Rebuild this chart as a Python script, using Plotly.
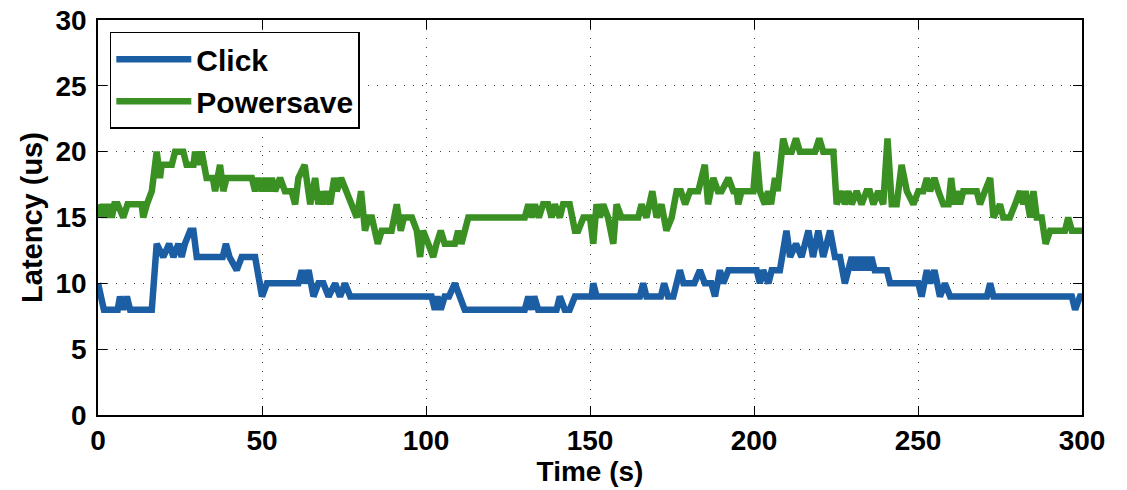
import plotly.graph_objects as go

# Click series (time s, latency us)
click_t = [0, 1.8, 6, 6.7, 7.7, 8.8, 9.8, 16.4, 17.9, 19.9, 21.7, 23, 24.5, 25.5, 26.5, 28.1, 29.1, 30.1,
           38, 39, 40.1, 42.3, 43.8, 47.9, 50, 51.5, 61.1, 62.1, 63.1, 64.2, 65.7, 67.2, 68.7, 70.3,
           72.3, 73.8, 75.3, 76.9, 101.7, 102.7, 103.5, 104.5, 105.7, 107, 108.8, 110.3, 111.8,
           130.1, 131.2, 132.2, 133, 134.2, 139.8, 140.8, 142.3, 143.8, 145.4, 150.5, 151, 152,
           165.2, 166.2, 167.2, 171.6, 172.6, 173.8, 175.4, 177.4, 178.5, 181.8, 183.5, 185, 187,
           188.1, 189.6, 190.6, 192.2, 200.8, 201.8, 202.8, 204.4, 205.4, 207.9, 209.9, 211, 212.8,
           214.5, 216.6, 218, 219.6, 221.1, 223.2, 224.7, 226.2, 227.7, 229.8, 230.8, 231.8, 232.8,
           233.8, 234.8, 235.8, 236.8, 240.5, 241.5, 250.1, 251.1, 252.7, 253.7, 255, 256.7, 258.2,
           259.8, 271, 272, 273, 296.9, 297.9, 299.4, 300]
click_v = [10, 8, 8, 9, 8, 9, 8, 8, 13, 12, 13, 12, 13, 12, 13, 14, 14, 12,
           12, 13, 12, 11, 12, 12, 9, 10, 10, 11, 10, 11, 9, 10, 10, 9,
           10, 9, 10, 9, 9, 8, 9, 8, 9, 9, 10, 9, 8,
           8, 9, 8, 9, 8, 8, 9, 8, 8, 9, 9, 10, 9,
           9, 10, 9, 9, 10, 9, 9, 11, 10, 10, 11, 10, 10,
           9, 11, 10, 11, 11, 10, 11, 10, 11, 11, 14, 12, 13,
           12, 14, 12, 14, 12, 14, 12, 12, 10, 12, 11, 12, 11,
           12, 11, 12, 11, 11, 10, 10, 9, 11, 10, 11, 9, 10,
           9, 9, 10, 9, 9, 8, 9, 9]

# Powersave series
ps_t = [0, 0.6, 1.5, 2.4, 3.3, 4.2, 5, 6, 7.7, 9, 13.3, 13.8, 14.9, 16.4, 17.9, 18.9, 19.4, 21, 22.5,
        23.5, 26, 27, 29.1, 29.6, 30.6, 31.6, 33.1, 35, 35.7, 37.2, 38.2, 39.2, 46.9, 47.9, 48.9,
        50, 51, 52, 53, 54, 55.5, 57, 59, 60.1, 61.1, 63, 64.7, 66.2, 67.2, 68.2, 68.7, 69.7, 70.8,
        72, 72.8, 74.1, 75.8, 77.4, 78.9, 80.2, 81.4, 82.5, 83.5, 85.3, 86.5, 89.5, 91.1, 92.3,
        93.3, 95.7, 97.2, 98.2, 99.1, 100.7, 102.2, 103.2, 104.5, 105.7, 108.8, 109.8, 110.8,
        112.9, 130.1, 131.2, 132.2, 133.2, 134.4, 135.7, 137.2, 138.3, 139.3, 140.8, 141.8,
        143.8, 145.4, 146.4, 148, 150, 151, 152, 153, 154, 155.5, 157.1, 158.1, 159.6, 164.7,
        165.7, 167.2, 169, 170.3, 171.8, 173.3, 174.9, 176.4, 177.7, 179, 180.5, 183, 185, 186,
        187.6, 189, 190.1, 192.2, 193.7, 194.7, 195.2, 196.2, 199.8, 200.8, 201.8, 203.3, 204.3,
        205.2, 206.4, 207.2, 208.9, 210, 211.5, 212.8, 214, 218.6, 219.9, 221.1, 224.2, 225.2,
        226.7, 227.7, 228.8, 229.8, 231.3, 232.8, 234.3, 235.3, 236.4, 237.9, 239.4, 240.7, 242,
        243.5, 245, 246.6, 248.6, 250.1, 251.6, 252.7, 253.7, 255, 256.2, 257.7, 259.3, 260.1,
        261.1, 261.8, 262.8, 263.8, 267.9, 268.9, 270.4, 272, 273, 275, 276, 278, 279.6, 281.1,
        282.1, 282.8, 284.2, 285.2, 286.2, 287.7, 288.9, 290.3, 294.8, 295.8, 296.9, 300]
ps_v = [16, 15, 16, 15, 16, 15, 16, 16, 15, 16, 16, 15, 16, 17, 20, 18, 19, 19, 19,
        20, 20, 19, 19, 20, 19, 20, 18, 18, 17, 19, 17, 18, 18, 17, 18,
        17, 18, 17, 18, 17, 18, 17, 17, 16, 18, 19, 16, 18, 16, 17, 16, 17, 16,
        18, 17, 18, 17, 16, 15, 17, 14, 15, 15, 13, 14, 14, 16, 14,
        15, 15, 14, 12, 14, 13, 12, 13, 14, 13, 13, 14, 13,
        15, 15, 16, 15, 16, 15, 16, 16, 15, 16, 15, 16,
        16, 14, 14, 15, 15, 13, 16, 15, 16, 15, 13, 16, 15, 15,
        16, 15, 17, 15, 16, 14, 15, 17, 17, 16, 17, 17, 19, 16,
        18, 17, 17, 18, 17, 17, 16, 17, 17, 20, 17, 16, 17,
        16, 18, 17, 21, 20, 20, 21, 20, 20, 21, 20, 20, 16,
        17, 16, 17, 16, 17, 16, 17, 17, 16, 17, 16, 21, 16,
        16, 19, 17, 16, 17, 17, 18, 17, 18, 17, 16, 16, 18,
        16, 17, 16, 17, 17, 16, 17, 18, 15, 16, 15, 15, 16, 17,
        16, 17, 15, 17, 15, 15, 13, 14, 14, 15, 14, 14]

x_ticks = [0, 50, 100, 150, 200, 250, 300]
y_ticks = [0, 5, 10, 15, 20, 25, 30]

FONT = "Liberation Sans, Arial, sans-serif"

fig = go.Figure()
fig.add_trace(go.Scatter(x=click_t, y=click_v, mode="lines", name="<b>Click</b>",
                         line=dict(color="#1c5ea3", width=6.5)))
fig.add_trace(go.Scatter(x=ps_t, y=ps_v, mode="lines", name="<b>Powersave</b>",
                         line=dict(color="#3a9023", width=6.5)))

axis_common = dict(showline=True, linecolor="black", linewidth=1.5, mirror="ticks",
                   ticks="inside", ticklen=9, tickcolor="black", tickwidth=1,
                   showgrid=True, gridcolor="#444444", griddash="1px,8px", gridwidth=1,
                   zeroline=False, automargin=False, ticklabeloverflow="allow",
                   tickfont=dict(family=FONT, size=28, color="black", weight="bold"))

fig.update_xaxes(range=[0, 300], tickvals=x_ticks,
                 title=dict(text="<b>Time (s)</b>", font=dict(family=FONT, size=28, color="black"),
                            standoff=0),
                 ticklabelstandoff=0,
                 **axis_common)
fig.update_yaxes(range=[0, 30], tickvals=y_ticks,
                 title=dict(text="<b>Latency (us)</b>", font=dict(family=FONT, size=29, color="black"),
                            standoff=4),
                 ticklabelstandoff=4,
                 **axis_common)

fig.update_layout(
    width=1127, height=490,
    margin=dict(l=98, r=45, t=20, b=75),
    plot_bgcolor="white", paper_bgcolor="white",
    font=dict(family=FONT, color="black"),
    legend=dict(x=0.012, y=0.97, xanchor="left", yanchor="top",
                bgcolor="white", bordercolor="black", borderwidth=1.5,
                font=dict(family=FONT, size=30, color="black"),
                tracegroupgap=0, itemwidth=75),
    showlegend=True,
)

# remove the default page margin so the figure sits at the window's top-left corner
fig.write_html("out.html",
               config={"displayModeBar": False},
               post_script="document.body.style.margin='0';document.body.style.overflow='hidden';")
